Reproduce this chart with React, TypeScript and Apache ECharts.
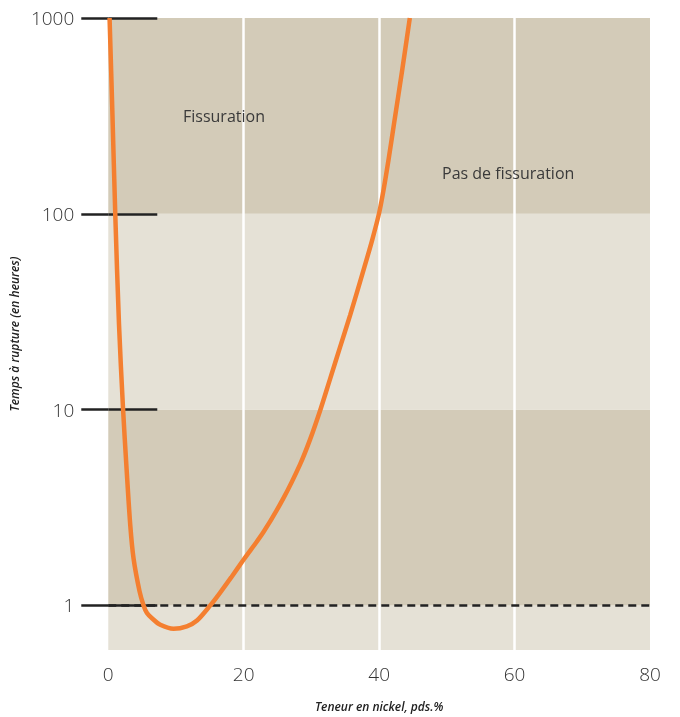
import React, { useEffect, useRef } from "react";
import * as echarts from "echarts";

// Curve: Teneur en nickel (pds.%) vs temps à rupture (heures)
const nickelPct = [0.19, 0.62, 1.03, 1.58, 2.18, 2.70, 3.25, 3.73, 4.62, 5.21, 5.71, 6.45, 7.68, 9.64, 11.6, 13.1, 15.06, 16.5, 18.15, 19.97, 22.92, 25.87, 28.34, 29.82, 31.3, 32.77, 34.24, 35.72, 37.82, 39.0, 40.01, 40.66, 41.39, 42.29, 43.41, 44.53];
const ruptureHours = [1000, 317, 100, 27.4, 10.1, 5.0, 2.56, 1.74, 1.18, 1.0, 0.914, 0.86, 0.796, 0.76, 0.782, 0.837, 1.0, 1.16, 1.39, 1.71, 2.37, 3.53, 5.27, 7.07, 9.93, 14.4, 20.9, 30.4, 53.4, 74.1, 101.4, 133, 189, 303, 543, 1000];

const yTicks = [1, 10, 100, 1000];
const yMin = 0.592;
const yMax = 1000;
const bandEdges = [0.592, 1, 10, 100, 1000];
const xTicks = [0, 20, 40, 60, 80];
const xGridLines = [20, 40, 60];
const thresholdHours = 1;

const xName = "Teneur en nickel, pds.%";
const yName = "Temps à rupture (en heures)";
const zoneLabels = ["Fissuration", "Pas de fissuration"];

const FONT = "Open Sans";
const DARK = "#d3cbb8";
const LIGHT = "#e5e1d6";
const ORANGE = "#f47f30";
const INK = "#222222";

export default function App() {
  const ref = useRef<HTMLDivElement>(null);
  useEffect(() => {
    if (!ref.current) return;
    const chart = echarts.init(ref.current, undefined, { renderer: "svg" });
    const bandColors = [LIGHT, DARK, LIGHT, DARK];
    const option: any = {
      animation: false,
      grid: { left: 108, width: 542, top: "2.51%", height: "88.42%", containLabel: false },
      xAxis: {
        type: "value",
        min: xTicks[0],
        max: xTicks[xTicks.length - 1],
        interval: 20,
        axisLine: { show: false },
        axisTick: { show: false },
        splitLine: { show: false },
        axisLabel: { margin: 14, fontSize: 19, fontWeight: 300, fontFamily: FONT, color: "#333" },
        name: xName,
        nameLocation: "middle",
        nameGap: 50,
        nameTextStyle: { fontStyle: "italic", fontWeight: 600, fontSize: 12, fontFamily: FONT, color: INK },
      },
      yAxis: [
        {
          type: "log",
          min: yMin,
          max: yMax,
          position: "left",
          z: 3,
          axisLine: { show: false },
          splitLine: { show: false },
          axisTick: { show: true, customValues: yTicks, length: 27, lineStyle: { color: INK, width: 2.5 } },
          axisLabel: {
            customValues: yTicks,
            margin: 34,
            fontSize: 19,
            fontWeight: 300,
            fontFamily: FONT,
            color: "#333",
            formatter: (v: number) => String(Math.round(v)),
          },
          name: yName,
          nameLocation: "middle",
          nameGap: 80,
          nameTextStyle: { fontStyle: "italic", fontWeight: 600, fontSize: 12, fontFamily: FONT, color: INK },
        },
        {
          type: "log",
          min: yMin,
          max: yMax,
          position: "left",
          z: 3,
          axisLine: { show: false },
          splitLine: { show: false },
          axisTick: { show: true, inside: true, customValues: yTicks, length: 49, lineStyle: { color: INK, width: 2.5 } },
          axisLabel: { show: false },
        },
      ],
      series: [
        {
          type: "line",
          data: [],
          z: 1,
          silent: true,
          markArea: {
            silent: true,
            itemStyle: { opacity: 1 },
            data: bandEdges.slice(0, -1).map((lo, i) => [
              { yAxis: lo, itemStyle: { color: bandColors[i] } },
              { yAxis: bandEdges[i + 1] },
            ]),
          },
        },
        {
          type: "line",
          data: [],
          z: 2,
          silent: true,
          markLine: {
            silent: true,
            symbol: "none",
            label: { show: false },
            data: [
              ...xGridLines.map((v) => ({ xAxis: v, lineStyle: { color: "#ffffff", width: 2.5, type: "solid" } })),
              { yAxis: thresholdHours, lineStyle: { color: INK, width: 2.5, type: [8, 5] } },
            ],
          },
        },
        {
          type: "line",
          z: 5,
          data: nickelPct.map((x, i) => [x, ruptureHours[i]]),
          showSymbol: false,
          smooth: 0.3,
          lineStyle: { color: ORANGE, width: 4.5, cap: "butt" },
          silent: true,
        },
      ],
      graphic: [
        {
          type: "text",
          z: 10,
          x: 183,
          y: 116,
          style: { text: zoneLabels[0], fontSize: 16, fontFamily: FONT, fill: "#3a3a3a", verticalAlign: "middle" },
        },
        {
          type: "text",
          z: 10,
          x: 442,
          y: 173,
          style: { text: zoneLabels[1], fontSize: 16, fontFamily: FONT, fill: "#3a3a3a", verticalAlign: "middle" },
        },
      ],
    };
    chart.setOption(option);
    return () => chart.dispose();
  }, []);
  return <div ref={ref} style={{ position: "fixed", left: 0, top: 0, width: "100vw", height: "100vh" }} />;
}
